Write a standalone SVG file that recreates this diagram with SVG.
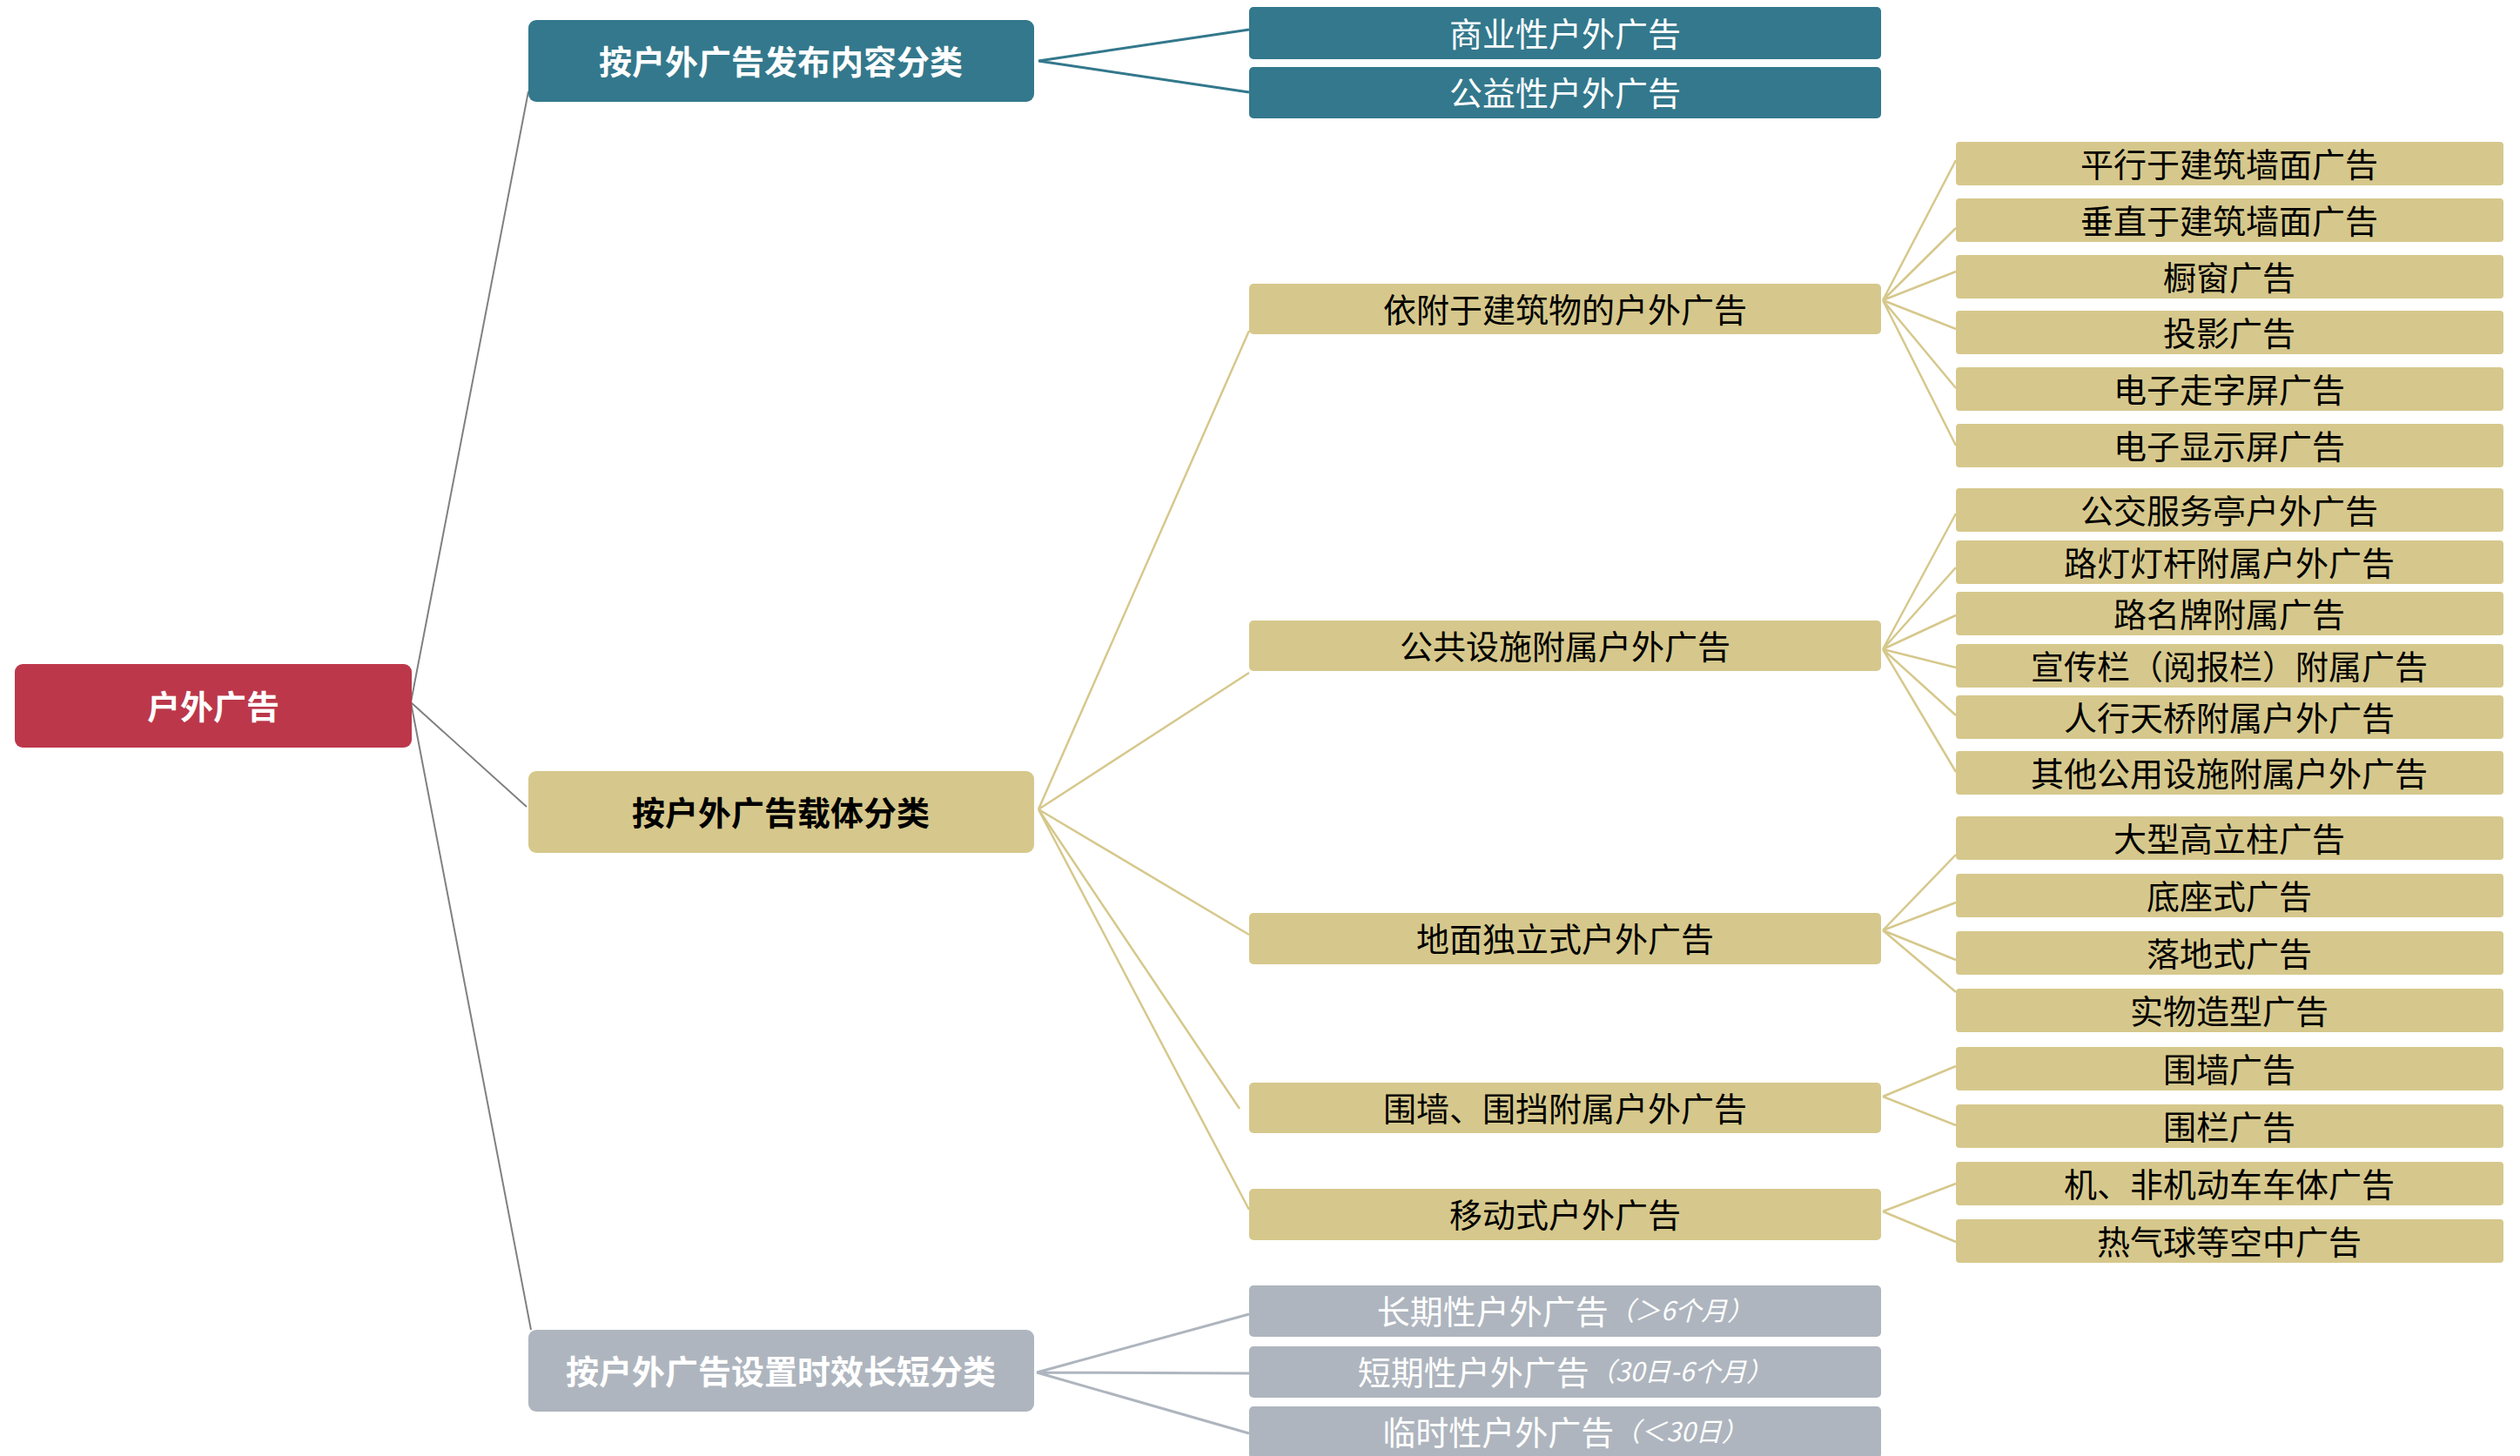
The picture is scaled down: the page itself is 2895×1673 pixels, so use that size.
<svg xmlns="http://www.w3.org/2000/svg" width="2895" height="1673" viewBox="0 0 2895 1673">
<style>
text{font-family:"Noto Sans CJK SC","Liberation Sans",sans-serif;font-size:38px;text-anchor:middle;dominant-baseline:central}
.b{font-weight:bold}
.w{fill:#ffffff}
.k{fill:#000000}
.red{fill:#BC374A}
.teal{fill:#33788C}
.gold{fill:#D6C88C}
.gray{fill:#AEB5BE}
.it{font-style:italic;font-size:30px}
.lr{stroke:#808080;stroke-width:2;fill:none}
.lt{stroke:#33788C;stroke-width:3;fill:none}
.lg{stroke:#D6C88C;stroke-width:2.5;fill:none}
.ly{stroke:#AEB5BE;stroke-width:3;fill:none}
</style>
<rect width="2895" height="1673" fill="#ffffff"/>
<g id="connectors">
<path class="lr" d="M472 807L607 105M472 807L605 927M472 807L610 1528"/>
<path class="lt" d="M1193 70L1435 34M1193 70L1435 106"/>
<path class="lg" d="M1193 930L1435 380M1193 930L1435 773M1193 930L1435 1074M1193 930L1424 1274M1193 930L1435 1390"/>
<path class="lg" d="M2163 345L2247 184M2163 345L2247 262M2163 345L2247 312M2163 345L2247 378M2163 345L2247 446M2163 345L2247 512"/>
<path class="lg" d="M2163 746L2247 590M2163 746L2247 652M2163 746L2247 707M2163 746L2247 767M2163 746L2247 822M2163 746L2247 887"/>
<path class="lg" d="M2163 1069L2247 982M2163 1069L2247 1037M2163 1069L2247 1103M2163 1069L2247 1140"/>
<path class="lg" d="M2163 1260L2247 1225M2163 1260L2247 1293"/>
<path class="lg" d="M2163 1392L2247 1360M2163 1392L2247 1427"/>
<path class="ly" d="M1191 1577L1435 1510M1191 1577L1435 1578M1191 1577L1435 1647"/>
</g>
<g id="root"><rect class="red" x="17" y="763" width="456" height="96" rx="9"/><text class="b w" x="245" y="809">户外广告</text></g>
<g id="n-content"><rect class="teal" x="607" y="23" width="581" height="94" rx="9"/><text class="b w" x="897" y="68">按户外广告发布内容分类</text></g>
<g id="n-carrier"><rect class="gold" x="607" y="886" width="581" height="94" rx="9"/><text class="b k" x="897" y="931">按户外广告载体分类</text></g>
<g id="n-time"><rect class="gray" x="607" y="1528" width="581" height="94" rx="9"/><text class="b w" x="897" y="1573">按户外广告设置时效长短分类</text></g>

<g id="n-commercial"><rect class="teal" x="1435" y="8" width="726" height="60" rx="5"/><text class="w" x="1798" y="36">商业性户外广告</text></g>
<g id="n-public"><rect class="teal" x="1435" y="77" width="726" height="59" rx="5"/><text class="w" x="1798" y="104">公益性户外广告</text></g>

<g id="n-building"><rect class="gold" x="1435" y="326" width="726" height="58" rx="5"/><text class="k" x="1798" y="353">依附于建筑物的户外广告</text></g>
<g id="n-facility"><rect class="gold" x="1435" y="713" width="726" height="58" rx="5"/><text class="k" x="1798" y="740">公共设施附属户外广告</text></g>
<g id="n-ground"><rect class="gold" x="1435" y="1049" width="726" height="59" rx="5"/><text class="k" x="1798" y="1076">地面独立式户外广告</text></g>
<g id="n-wall"><rect class="gold" x="1435" y="1244" width="726" height="58" rx="5"/><text class="k" x="1798" y="1271">围墙、围挡附属户外广告</text></g>
<g id="n-mobile"><rect class="gold" x="1435" y="1366" width="726" height="59" rx="5"/><text class="k" x="1798" y="1393">移动式户外广告</text></g>

<g id="n-long"><rect class="gray" x="1435" y="1477" width="726" height="59" rx="5"/><text class="w" x="1798" y="1504"><tspan>长期性户外广告</tspan><tspan class="it">（＞6个月）</tspan></text></g>
<g id="n-short"><rect class="gray" x="1435" y="1547" width="726" height="59" rx="5"/><text class="w" x="1798" y="1574"><tspan>短期性户外广告</tspan><tspan class="it">（30日-6个月）</tspan></text></g>
<g id="n-temp"><rect class="gray" x="1435" y="1616" width="726" height="60" rx="5"/><text class="w" x="1798" y="1643"><tspan>临时性户外广告</tspan><tspan class="it">（＜30日）</tspan></text></g>

<g id="l3-1"><rect class="gold" x="2247" y="163" width="629" height="50" rx="4"/><text class="k" x="2561" y="186">平行于建筑墙面广告</text></g>
<g id="l3-2"><rect class="gold" x="2247" y="228" width="629" height="50" rx="4"/><text class="k" x="2561" y="251">垂直于建筑墙面广告</text></g>
<g id="l3-3"><rect class="gold" x="2247" y="293" width="629" height="50" rx="4"/><text class="k" x="2561" y="316">橱窗广告</text></g>
<g id="l3-4"><rect class="gold" x="2247" y="357" width="629" height="50" rx="4"/><text class="k" x="2561" y="380">投影广告</text></g>
<g id="l3-5"><rect class="gold" x="2247" y="422" width="629" height="50" rx="4"/><text class="k" x="2561" y="445">电子走字屏广告</text></g>
<g id="l3-6"><rect class="gold" x="2247" y="487" width="629" height="50" rx="4"/><text class="k" x="2561" y="510">电子显示屏广告</text></g>

<g id="l3-7"><rect class="gold" x="2247" y="561" width="629" height="50" rx="4"/><text class="k" x="2561" y="584">公交服务亭户外广告</text></g>
<g id="l3-8"><rect class="gold" x="2247" y="621" width="629" height="50" rx="4"/><text class="k" x="2561" y="644">路灯灯杆附属户外广告</text></g>
<g id="l3-9"><rect class="gold" x="2247" y="680" width="629" height="50" rx="4"/><text class="k" x="2561" y="703">路名牌附属广告</text></g>
<g id="l3-10"><rect class="gold" x="2247" y="740" width="629" height="50" rx="4"/><text class="k" x="2561" y="763">宣传栏（阅报栏）附属广告</text></g>
<g id="l3-11"><rect class="gold" x="2247" y="799" width="629" height="50" rx="4"/><text class="k" x="2561" y="822">人行天桥附属户外广告</text></g>
<g id="l3-12"><rect class="gold" x="2247" y="863" width="629" height="50" rx="4"/><text class="k" x="2561" y="886">其他公用设施附属户外广告</text></g>

<g id="l3-13"><rect class="gold" x="2247" y="938" width="629" height="50" rx="4"/><text class="k" x="2561" y="961">大型高立柱广告</text></g>
<g id="l3-14"><rect class="gold" x="2247" y="1004" width="629" height="50" rx="4"/><text class="k" x="2561" y="1027">底座式广告</text></g>
<g id="l3-15"><rect class="gold" x="2247" y="1070" width="629" height="50" rx="4"/><text class="k" x="2561" y="1093">落地式广告</text></g>
<g id="l3-16"><rect class="gold" x="2247" y="1136" width="629" height="50" rx="4"/><text class="k" x="2561" y="1159">实物造型广告</text></g>

<g id="l3-17"><rect class="gold" x="2247" y="1203" width="629" height="50" rx="4"/><text class="k" x="2561" y="1226">围墙广告</text></g>
<g id="l3-18"><rect class="gold" x="2247" y="1269" width="629" height="50" rx="4"/><text class="k" x="2561" y="1292">围栏广告</text></g>

<g id="l3-19"><rect class="gold" x="2247" y="1335" width="629" height="50" rx="4"/><text class="k" x="2561" y="1358">机、非机动车车体广告</text></g>
<g id="l3-20"><rect class="gold" x="2247" y="1401" width="629" height="50" rx="4"/><text class="k" x="2561" y="1424">热气球等空中广告</text></g>
</svg>
